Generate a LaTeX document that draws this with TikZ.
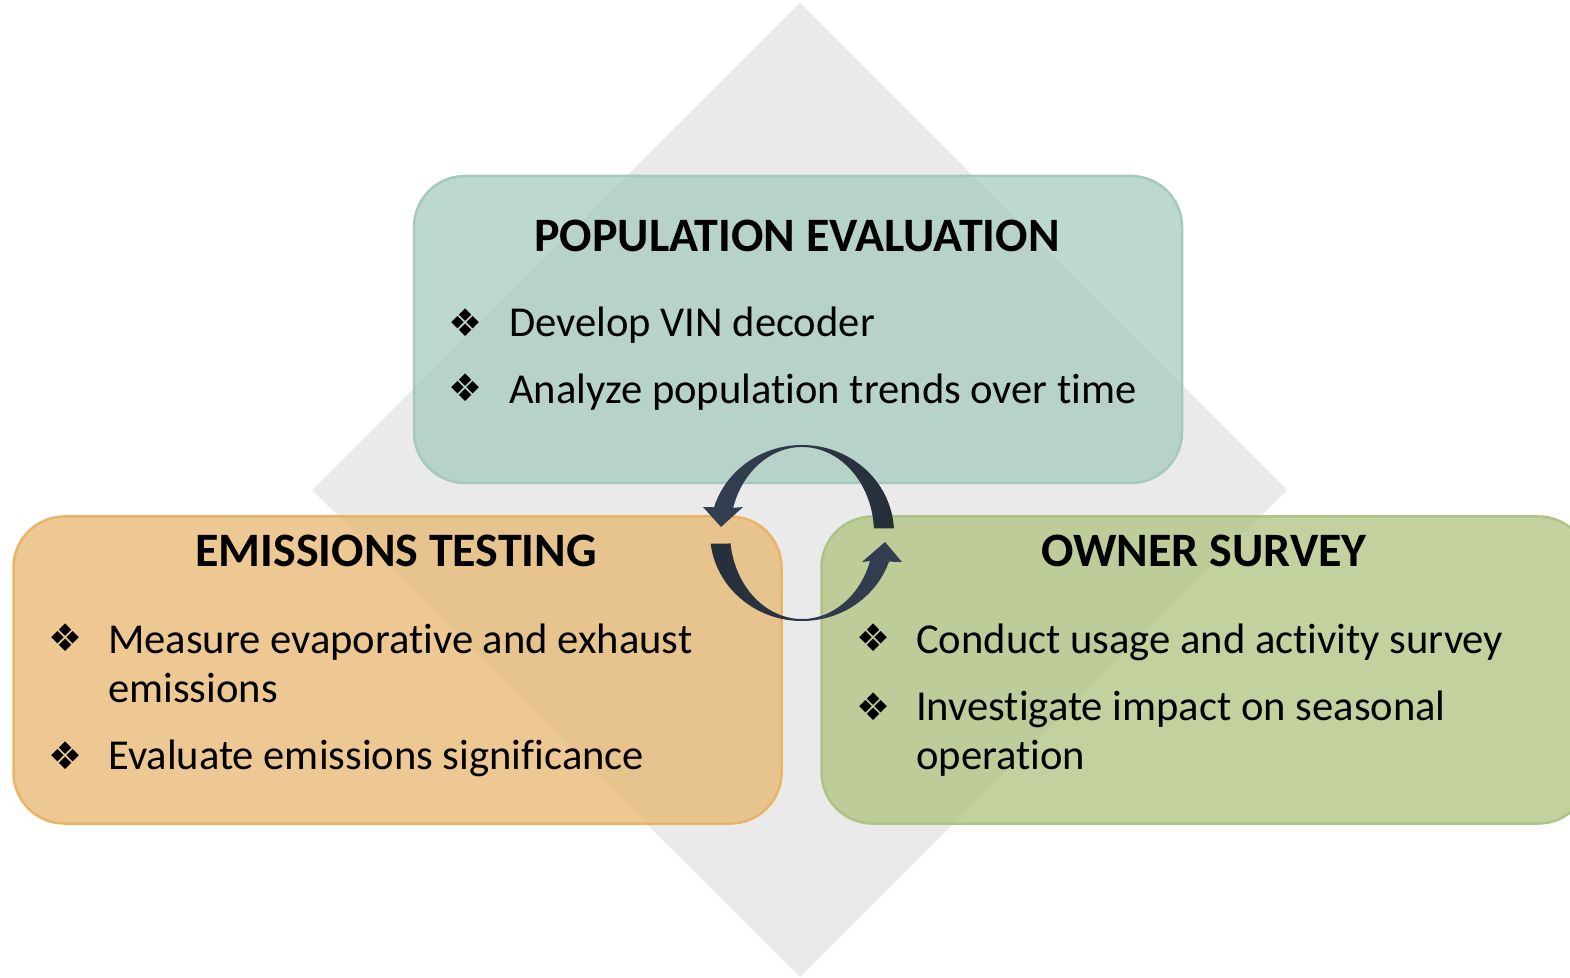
\documentclass[tikz,border=0pt]{standalone}
\usepackage{fontspec}
\setmainfont{Carlito}[Ligatures={NoCommon,NoContextual}]
\newfontfamily\symfont{DejaVu Sans}
\usetikzlibrary{calc}
\definecolor{diam}{HTML}{EAEAEA}
\definecolor{popfill}{HTML}{A7CBBF}
\definecolor{popline}{HTML}{A3CABD}
\definecolor{emfill}{HTML}{E7B66F}
\definecolor{emline}{HTML}{EAB464}
\definecolor{owfill}{HTML}{AFC27F}
\definecolor{owline}{HTML}{ADC484}
\definecolor{arrowA}{HTML}{344053}
\definecolor{arrowB}{HTML}{252E3A}
\tikzset{
  box/.style={rectangle, rounded corners=51pt, minimum width=768pt, minimum height=307pt, line width=2.5pt, fill opacity=0.75, inner sep=0},
  body/.style={font=\fontsize{42.6}{49}\selectfont, inner sep=0, anchor=base west},
  ttl/.style={font=\fontsize{48}{52}\selectfont\bfseries, inner sep=0, anchor=base},
  bul/.style={font=\symfont\fontsize{38}{38}\selectfont, inner sep=0},
}
\begin{document}
\begin{tikzpicture}[x=1pt,y=1pt]
\useasboundingbox (0,0) rectangle (1570,977);
\clip (0,0) rectangle (1570,977);
% background diamond
\fill[diam] (800,974) -- (1287,487) -- (800,0) -- (312,487) -- cycle;
% boxes
\node[box, draw=popline, fill=popfill] (popbox) at (798,647.5) {};
\node[box, draw=emline, fill=emfill] (embox) at (397.5,307) {};
\node[box, draw=owline, fill=owfill] (owbox) at (1205.5,307) {};
% titles
\node[ttl] (poptitle) at (797,725) {POPULATION EVALUATION};
\node[ttl] (emtitle) at (396,410) {EMISSIONS TESTING};
\node[ttl] (owtitle) at (1204,410) {OWNER SURVEY};
% top bullets
\node[bul] (pb1) at (466,654) {❖};
\node[body] (pt1) at (509,640) {Develop VIN decoder};
\node[bul] (pb2) at (466,589) {❖};
\node[body] (pt2) at (509,573) {Analyze population trends over time};
% left bullets
\node[bul] (eb1) at (66,339) {❖};
\node[body] (et1) at (108,323) {Measure evaporative and exhaust};
\node[body] (et1b) at (108,274) {emissions};
\node[bul] (eb2) at (66,221) {❖};
\node[body] (et2) at (108,207) {Evaluate emissions significance};
% right bullets
\node[bul] (ob1) at (874,339) {❖};
\node[body] (ot1) at (916,323) {Conduct usage and activity survey};
\node[bul] (ob2) at (874,270) {❖};
\node[body] (ot2) at (916,256) {Investigate impact on seasonal};
\node[body] (ot2b) at (916,207) {operation};
% cycle arrows
\coordinate (C) at (802,444);
\path[left color=arrowA, right color=arrowB]
  ($(C)+(3:92pt and 88pt)$) arc[start angle=3, end angle=163, x radius=92pt, y radius=88pt]
  -- (703,470) -- (721,450) -- (743,470)
  -- ($(C)+(163:72pt and 86pt)$) arc[start angle=163, end angle=3, x radius=72pt, y radius=86pt]
  -- cycle;
\path[left color=arrowB, right color=arrowA]
  ($(C)+(187:92pt and 88pt)$) arc[start angle=187, end angle=341, x radius=92pt, y radius=88pt]
  -- (902,415) -- (885,435) -- (862,415)
  -- ($(C)+(341:72pt and 86pt)$) arc[start angle=341, end angle=187, x radius=72pt, y radius=86pt]
  -- cycle;
\end{tikzpicture}
\end{document}
